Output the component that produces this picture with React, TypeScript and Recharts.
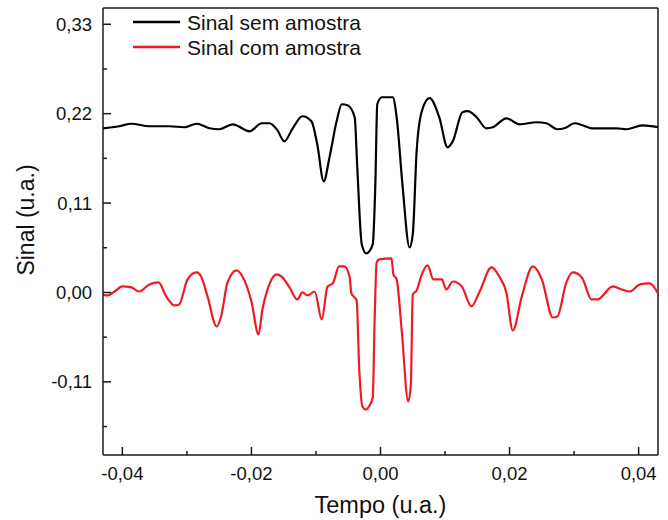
import { LineChart, Line, XAxis, YAxis, ReferenceLine, Legend } from "recharts";

const FONT = '"Liberation Sans", Arial, sans-serif';
const AXIS = "#1a1a1a";

// Sinal sem amostra (black)
const timeSem = [
  -0.043, -0.0405, -0.0386, -0.0358, -0.0327, -0.0304, -0.0285, -0.0265, -0.025, -0.0229,
  -0.0203, -0.0184, -0.0172, -0.016, -0.0149, -0.0136, -0.0121, -0.0107, -0.0098, -0.0088,
  -0.0079, -0.0068, -0.006, -0.0051, -0.004, -0.0036, -0.0029, -0.0022, -0.0012, -0.0008,
  -0.0005, 0.0002, 0.0019, 0.0025, 0.0034, 0.0045, 0.005, 0.0056, 0.0064, 0.0076,
  0.0091, 0.0104, 0.0112, 0.0127, 0.0135, 0.0149, 0.0164, 0.0174, 0.0195, 0.0216,
  0.0242, 0.0257, 0.0274, 0.0285, 0.0301, 0.0313, 0.0327, 0.0366, 0.0381, 0.0406, 0.043,
];
const sinalSem = [
  0.202, 0.2045, 0.2076, 0.2045, 0.2045, 0.2033, 0.2076, 0.202, 0.2008, 0.2069,
  0.1983, 0.2082, 0.2082, 0.2, 0.186, 0.202, 0.2168, 0.2106, 0.1823, 0.1367,
  0.1663, 0.2106, 0.2316, 0.2303, 0.2156, 0.154, 0.0591, 0.048, 0.0591, 0.133,
  0.2316, 0.2402, 0.2402, 0.2156, 0.133, 0.0554, 0.0714, 0.1737, 0.223, 0.239,
  0.2156, 0.1786, 0.186, 0.2217, 0.223, 0.2156, 0.202, 0.2033, 0.2143, 0.2069,
  0.2094, 0.2082, 0.2008, 0.202, 0.2082, 0.2057, 0.202, 0.202, 0.2008, 0.2057, 0.2033,
];

// Sinal com amostra (red)
const timeCom = [
  -0.043, -0.0423, -0.0412, -0.04, -0.0386, -0.0374, -0.0358, -0.0344, -0.0332, -0.0319,
  -0.0312, -0.0299, -0.0285, -0.0278, -0.0268, -0.0254, -0.0247, -0.0237, -0.0223, -0.0214,
  -0.02, -0.0189, -0.0183, -0.0175, -0.0161, -0.0152, -0.0141, -0.0129, -0.0121, -0.0113,
  -0.0102, -0.0091, -0.0082, -0.0074, -0.0064, -0.0056, -0.0048, -0.0045, -0.0037, -0.0033,
  -0.0028, -0.0023, -0.0017, -0.0012, -0.0009, -0.0006, -0.0002, 0.0017, 0.002, 0.0025,
  0.0033, 0.0043, 0.0047, 0.005, 0.0056, 0.0064, 0.0073, 0.0082, 0.0095, 0.0102,
  0.0112, 0.0126, 0.0141, 0.0153, 0.0172, 0.0184, 0.0195, 0.0205, 0.0219, 0.0236,
  0.025, 0.0267, 0.0274, 0.0288, 0.0298, 0.0312, 0.0327, 0.0336, 0.036, 0.0374,
  0.0386, 0.0402, 0.0417, 0.043,
];
const sinalCom = [
  -0.0025, -0.0037, 0.0012, 0.0074, 0.0062, 0.0012, 0.0099, 0.0123, -0.0049, -0.016,
  -0.0148, 0.016, 0.0246, 0.0197, -0.0049, -0.0419, -0.0296, 0.0123, 0.0271, 0.0197,
  -0.0111, -0.0517, -0.0209, 0.0037, 0.0222, 0.0185, 0.0062, -0.0086, 0, -0.0037,
  0.0012, -0.0333, 0.0074, 0.0111, 0.032, 0.032, 0.0197, -0.0012, -0.0099, -0.0924,
  -0.1404, -0.1441, -0.1392, -0.1293, -0.0308, 0.037, 0.0406, 0.0419, 0.0222, 0.016,
  -0.048, -0.1343, -0.1133, -0.0025, 0.0025, 0.0222, 0.0333, 0.016, 0.016, 0.0037,
  0.0135, 0.0074, -0.0172, 0, 0.0308, 0.0197, 0, -0.0468, -0.0049, 0.032,
  0.016, -0.0308, -0.0296, 0.0123, 0.0246, 0.0185, -0.0086, -0.0086, 0.0074, 0.0037,
  0.0012, 0.0099, 0.0111, -0.0012,
];

const xMajorTicks = [-0.04, -0.02, 0, 0.02, 0.04];
const xMinorTicks = [-0.03, -0.01, 0.01, 0.03];
const yMajorTicks = [-0.11, 0, 0.11, 0.22, 0.33];
const yMinorTicks = [-0.165, -0.055, 0.055, 0.165, 0.275];

const series = [
  { name: "Sinal sem amostra", color: "#000000", data: timeSem.map((x, i) => ({ x, y: sinalSem[i] })) },
  { name: "Sinal com amostra", color: "#ed1c24", data: timeCom.map((x, i) => ({ x, y: sinalCom[i] })) },
];

const fmt = (v: number) => v.toFixed(2).replace(".", ",");

function XTick(props: any) {
  const { x, y, payload } = props;
  const major = xMajorTicks.includes(payload.value);
  return (
    <g>
      <line x1={x} x2={x} y1={y} y2={y - (major ? 8 : 4)} stroke={AXIS} strokeWidth={1.5} />
      {major && (
        <text x={x} y={y + 25} textAnchor="middle" fontSize={18.5} fontFamily={FONT} fill="#111">
          {fmt(payload.value)}
        </text>
      )}
    </g>
  );
}

function YTick(props: any) {
  const { x, y, payload } = props;
  const major = yMajorTicks.includes(payload.value);
  return (
    <g>
      <line x1={x} x2={x + (major ? 8 : 4)} y1={y} y2={y} stroke={AXIS} strokeWidth={1.5} />
      {major && (
        <text x={x - 11} y={y + 6.5} textAnchor="end" fontSize={18.5} fontFamily={FONT} fill="#111">
          {fmt(payload.value)}
        </text>
      )}
    </g>
  );
}

function LegendBox() {
  return (
    <div style={{ fontFamily: FONT, fontSize: 21, lineHeight: "25px", color: "#111" }}>
      {series.map((s) => (
        <div key={s.name} style={{ display: "flex", alignItems: "center", height: 25 }}>
          <svg width={47} height={4} style={{ display: "block" }}>
            <line x1={0} x2={47} y1={2} y2={2} stroke={s.color} strokeWidth={2.5} />
          </svg>
          <span style={{ marginLeft: 7, whiteSpace: "nowrap" }}>{s.name}</span>
        </div>
      ))}
    </div>
  );
}

export default function App() {
  return (
    <div style={{ position: "absolute", left: 0, top: 0, fontFamily: FONT, background: "#fff" }}>
      <LineChart width={668} height={520} margin={{ top: 8, right: 10, bottom: 0, left: 0 }}>
        <XAxis
          dataKey="x"
          type="number"
          domain={[-0.043, 0.043]}
          allowDataOverflow
          ticks={[...xMajorTicks, ...xMinorTicks]}
          interval={0}
          tickSize={0}
          tickMargin={0}
          tickLine={false}
          tick={XTick}
          axisLine={{ stroke: AXIS, strokeWidth: 1.5 }}
          height={65}
          label={{ value: "Tempo (u.a.)", position: "insideBottom", offset: 7, fontSize: 23.5, fill: "#111", fontFamily: FONT }}
        />
        <YAxis
          type="number"
          domain={[-0.2, 0.35]}
          allowDataOverflow
          ticks={[...yMajorTicks, ...yMinorTicks]}
          interval={0}
          tickSize={0}
          tickMargin={0}
          tickLine={false}
          tick={YTick}
          axisLine={{ stroke: AXIS, strokeWidth: 1.5 }}
          width={103}
          label={{ value: "Sinal (u.a.)", angle: -90, position: "center", dx: -25.5, dy: -11.5, fontSize: 23, fill: "#111", fontFamily: FONT }}
        />
        <ReferenceLine y={0.35} stroke={AXIS} strokeWidth={1.5} />
        <ReferenceLine x={0.043} stroke={AXIS} strokeWidth={1.5} />
        <Legend
          layout="vertical"
          align="center"
          verticalAlign="middle"
          content={LegendBox}
          wrapperStyle={{ left: 133, top: 9.5, width: 300 }}
        />
        {series.map((s) => (
          <Line
            key={s.name}
            data={s.data}
            dataKey="y"
            name={s.name}
            type="monotone"
            stroke={s.color}
            strokeWidth={2.2}
            dot={false}
            activeDot={false}
            isAnimationActive={false}
          />
        ))}
      </LineChart>
    </div>
  );
}
